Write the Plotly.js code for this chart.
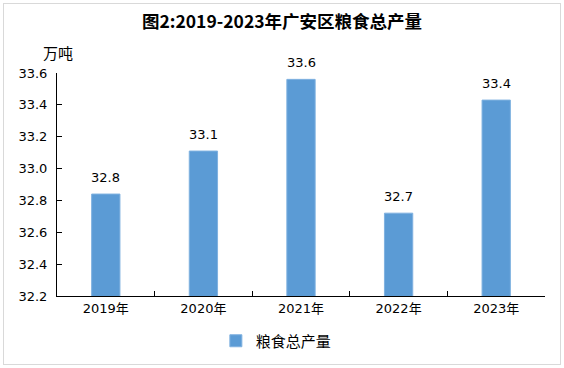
<!DOCTYPE html>
<html>
<head>
<meta charset="utf-8">
<script src="https://cdn.plot.ly/plotly-3.0.1.min.js"></script>
<style>
  html, body { margin: 0; padding: 0; background: #fff; }
  #wrap { position: relative; width: 564px; height: 368px; }
  #chart { width: 564px; height: 368px; }
  #frame { position: absolute; left: 3px; top: 3px; width: 556px; height: 360px;
           border: 1px solid #d9d9d9; pointer-events: none; }
</style>
</head>
<body>
<div id="wrap"><div id="chart"></div><div id="frame"></div></div>
<script>
const categories = ["2019年", "2020年", "2021年", "2022年", "2023年"];
const production = [32.84, 33.11, 33.56, 32.72, 33.43];
const seriesName = "粮食总产量";
const yTicks = [32.2, 32.4, 32.6, 32.8, 33.0, 33.2, 33.4, 33.6];

const font = "DejaVu Sans, 'Noto Sans CJK SC', sans-serif";

const trace = {
  type: "bar",
  x: categories,
  y: production,
  name: seriesName,
  marker: { color: "#5b9bd5", line: { color: "#7fb1e0", width: 1 } },
  showlegend: true,
  hoverinfo: "x+y"
};

const labelAnns = categories.map((c, i) => ({
  x: c, y: production[i], xref: "x", yref: "y",
  text: production[i].toFixed(1), showarrow: false,
  yanchor: "bottom", yshift: 7,
  font: { family: font, size: 13, color: "#000" }
}));

const layout = {
  width: 564, height: 368,
  margin: { l: 57, r: 19, t: 73, b: 72 },
  paper_bgcolor: "#fff", plot_bgcolor: "#fff",
  bargap: 0.71,
  title: {
    text: "<b>图2:2019-2023年广安区粮食总产量</b>",
    font: { family: "'Noto Sans CJK SC', sans-serif", size: 17.5, color: "#000" },
    x: 0.5, xanchor: "center", xref: "container",
    y: 1 - 22 / 368, yanchor: "middle", yref: "container"
  },
  xaxis: {
    type: "category",
    showline: true, linecolor: "#000", linewidth: 1,
    ticks: "inside", tickson: "boundaries", ticklen: 5, tickcolor: "#000",
    tickfont: { family: font, size: 13, color: "#000" },
    showgrid: false, zeroline: false, fixedrange: true
  },
  yaxis: {
    range: [32.2, 33.6],
    tickvals: yTicks,
    ticktext: yTicks.map(v => v.toFixed(1)),
    showline: true, linecolor: "#000", linewidth: 1,
    ticks: "inside", ticklen: 5, tickcolor: "#000",
    ticklabelstandoff: 6,
    tickfont: { family: font, size: 13, color: "#000" },
    showgrid: false, zeroline: false, fixedrange: true
  },
  legend: {
    orientation: "h", xref: "container", x: 0.49, xanchor: "center",
    yref: "container", y: 1 - 341 / 368, yanchor: "middle",
    font: { family: "'Noto Sans CJK SC', sans-serif", size: 15, color: "#000" }
  },
  annotations: labelAnns.concat([{
    text: "万吨", xref: "paper", yref: "paper", x: 0, xshift: 1, y: 1, yshift: 21,
    showarrow: false, xanchor: "center", yanchor: "middle",
    font: { family: "'Noto Sans CJK SC', sans-serif", size: 15, color: "#000" }
  }])
};

Plotly.newPlot("chart", [trace], layout, { displayModeBar: false, staticPlot: true });
</script>
</body>
</html>
